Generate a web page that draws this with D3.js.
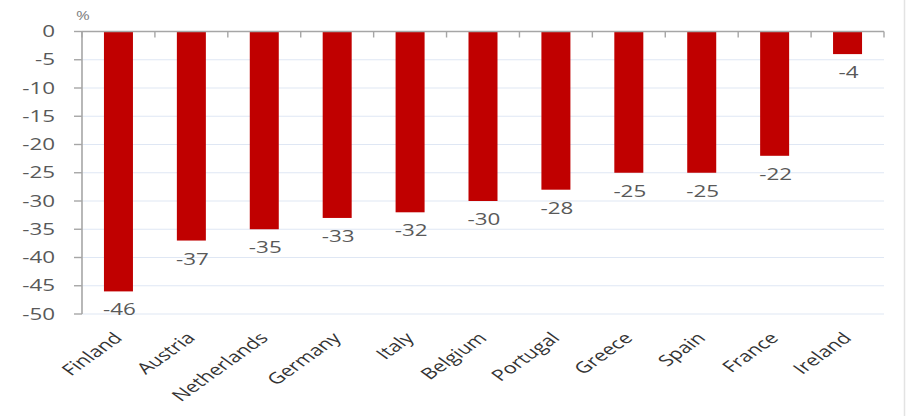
<!DOCTYPE html>
<html>
<head>
<meta charset="utf-8">
<script src="https://cdn.jsdelivr.net/npm/d3@7"></script>
<style>
  html, body { margin: 0; padding: 0; background: #fff; }
  svg { display: block; }
  text { font-family: "Open Sans", sans-serif; }
</style>
</head>
<body>
<svg id="chart" width="912" height="416"></svg>
<script>
// Change by country, %
const countries = ["Finland", "Austria", "Netherlands", "Germany", "Italy", "Belgium",
                   "Portugal", "Greece", "Spain", "France", "Ireland"];
const changes = [-46, -37, -35, -33, -32, -30, -28, -25, -25, -22, -4];
const yTicks = [0, -5, -10, -15, -20, -25, -30, -35, -40, -45, -50];
const unitLabel = "%";

const W = 912, H = 416;
const plotL = 82, plotR = 884, plotT = 31.5, plotB = 314;
const sx = 1.4; // horizontal text stretch

const svg = d3.select("#chart");

const xb = d3.scaleBand().domain(countries).range([plotL, plotR]);
const y = d3.scaleLinear().domain([0, -50]).range([plotT, plotB]);

// gridlines
svg.append("g").selectAll("line").data(yTicks.filter(t => t !== 0)).join("line")
  .attr("x1", plotL).attr("x2", plotR)
  .attr("y1", d => y(d)).attr("y2", d => y(d))
  .attr("stroke", "#dfe7f4").attr("stroke-width", 1.2);

// bars
svg.append("g").selectAll("rect").data(countries).join("rect")
  .attr("x", d => xb(d) + xb.bandwidth() / 2 - 14.5)
  .attr("width", 29)
  .attr("y", y(0))
  .attr("height", (d, i) => y(changes[i]) - y(0))
  .attr("fill", "#c00000");

// y axis line and ticks
const axisColor = "#a6a6a6";
svg.append("line").attr("x1", plotL).attr("x2", plotL).attr("y1", plotT).attr("y2", plotB)
  .attr("stroke", axisColor).attr("stroke-width", 1.6);
svg.append("g").selectAll("line").data(yTicks).join("line")
  .attr("x1", plotL - 8).attr("x2", plotL)
  .attr("y1", d => y(d)).attr("y2", d => y(d))
  .attr("stroke", axisColor).attr("stroke-width", 1.4);
svg.append("g").selectAll("text").data(yTicks).join("text")
  .attr("transform", d => `translate(55,${y(d) + 5.5}) scale(${sx},1)`)
  .attr("text-anchor", "end")
  .attr("font-size", 16)
  .attr("fill", "#595959")
  .text(d => d === 0 ? "0" : "-" + Math.abs(d));

// x axis line at zero with category ticks
svg.append("line").attr("x1", plotL).attr("x2", plotR).attr("y1", y(0)).attr("y2", y(0))
  .attr("stroke", axisColor).attr("stroke-width", 1.6);
const bounds = countries.map(c => xb(c)).concat([plotR]);
svg.append("g").selectAll("line").data(bounds).join("line")
  .attr("x1", d => d).attr("x2", d => d)
  .attr("y1", y(0)).attr("y2", y(0) + 6)
  .attr("stroke", axisColor).attr("stroke-width", 1.4);

// value labels
svg.append("g").selectAll("text").data(countries).join("text")
  .attr("transform", (d, i) => `translate(${xb(d) + xb.bandwidth() / 2 + 1},${y(changes[i]) + 24}) scale(${sx},1)`)
  .attr("text-anchor", "middle")
  .attr("font-size", 16)
  .attr("fill", "#595959")
  .text((d, i) => String(changes[i]));

// category labels
svg.append("g").selectAll("text").data(countries).join("text")
  .attr("transform", d => `translate(${xb(d) + xb.bandwidth() / 2 + 5},339) scale(${sx},1) rotate(-45)`)
  .attr("text-anchor", "end")
  .attr("font-size", 15.5)
  .attr("fill", "#333333")
  .text(d => d);

// unit
svg.append("text")
  .attr("transform", `translate(76,20) scale(${sx},1)`)
  .attr("font-size", 12)
  .attr("fill", "#7f7f7f")
  .text(unitLabel);

// frame edge
svg.append("line").attr("x1", 904.5).attr("x2", 904.5).attr("y1", 0).attr("y2", H)
  .attr("stroke", "#e3e3e3").attr("stroke-width", 1.5);
</script>
</body>
</html>
